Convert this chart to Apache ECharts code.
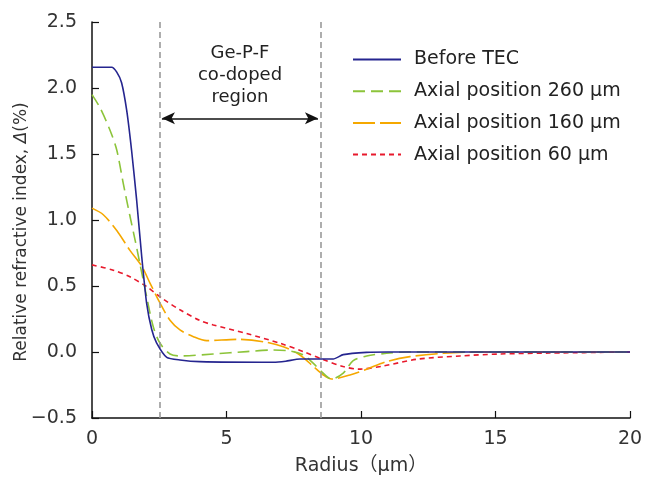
<!DOCTYPE html>
<html><head><meta charset="utf-8">
<script src="https://cdn.jsdelivr.net/npm/echarts@6/dist/echarts.min.js"></script>
<style>html,body{margin:0;padding:0;background:#fff}#c{width:646px;height:479px}</style>
</head><body><div id="c"></div>
<script>
const seriesNames = ['Before TEC','Axial position 260 µm','Axial position 160 µm','Axial position 60 µm'];
const blueX = [0,0.73,0.92,1.1,1.29,1.47,1.66,1.85,2.03,2.22,2.4,2.78,3.27,4.0,6.74,7.2,7.73,8.97,9.34,10.2,11,20];
const blueY = [2.157,2.157,2.12,2.04,1.83,1.53,1.15,0.72,0.37,0.17,0.07,-0.04,-0.06,-0.073,-0.078,-0.07,-0.053,-0.053,-0.02,-0.003,0,0];
const greenX = [0,0.3,0.67,0.92,1.16,1.41,1.6,1.78,2.03,2.28,2.53,2.9,3.27,4.51,5.75,6.74,7.36,7.86,8.23,8.54,8.91,9.34,9.71,10.21,10.95,11.7,15,20];
const greenY = [1.95,1.85,1.68,1.53,1.28,1.03,0.85,0.67,0.42,0.19,0.066,-0.015,-0.03,-0.015,0.003,0.015,0.008,-0.023,-0.086,-0.15,-0.205,-0.16,-0.066,-0.03,-0.01,0,0,0];
const orangeX = [0,0.42,0.92,1.41,1.85,2.16,2.53,2.9,3.27,3.77,4.26,5.38,6.37,7.11,7.73,8.23,8.6,8.91,9.59,10.21,10.95,11.82,13.06,14.5,20];
const orangeY = [1.09,1.04,0.92,0.77,0.65,0.52,0.37,0.24,0.167,0.116,0.086,0.096,0.078,0.04,-0.023,-0.11,-0.174,-0.205,-0.174,-0.13,-0.073,-0.035,-0.01,0,0];
const redX = [0,0.79,1.41,2.03,2.65,3.27,4.0,4.51,5.75,6.99,7.86,8.54,9.34,9.9,10.83,12.07,13.68,15.17,17,20];
const redY = [0.66,0.62,0.57,0.495,0.40,0.32,0.24,0.205,0.14,0.066,0.003,-0.053,-0.11,-0.13,-0.106,-0.055,-0.03,-0.015,-0.008,0];
const xTicks = [0,5,10,15,20];
const yTicks = [-0.5,0,0.5,1,1.5,2,2.5];
const regionBounds = [2.5,8.5];
const arrowY = 1.77;
const arrowX = [2.6,8.4];
const regionLabel = 'Ge-P-F\nco-doped\nregion';

const FONT = '"DejaVu Sans","Noto Sans CJK JP",sans-serif';
const zip = (xs, ys) => xs.map((x,i)=>[x, ys[i]]);

const chart = echarts.init(document.getElementById('c'), null, {renderer:'canvas'});
chart.setOption({
  animation:false,
  textStyle:{fontFamily:FONT},
  grid:{left:92,right:16,top:22,bottom:61,containLabel:false,outerBoundsMode:'none'},
  legend:{
    orient:'vertical', left:352, top:50, padding:0, itemWidth:48, itemHeight:20, itemGap:12.7,
    itemStyle:{opacity:0},
    textStyle:{fontSize:19,color:'#222',fontFamily:FONT,padding:[0,0,0,8]},
    data:seriesNames
  },
  xAxis:{
    type:'value', min:xTicks[0], max:xTicks[xTicks.length-1], interval:5,
    name:'Radius（µm）', nameLocation:'middle', nameGap:39, nameMoveOverlap:false,
    nameTextStyle:{fontSize:19,color:'#333',fontFamily:FONT},
    axisLine:{onZero:false,lineStyle:{color:'#111',width:1.5}},
    axisTick:{inside:true,length:7,lineStyle:{color:'#111',width:1.2}},
    axisLabel:{fontSize:19,color:'#333',margin:12,fontFamily:FONT,formatter:v=>String(v)},
    splitLine:{show:false}
  },
  yAxis:{
    type:'value', min:yTicks[0], max:yTicks[yTicks.length-1], interval:0.5,
    name:'{a|Relative refractive index, }{i|Δ}{a|(%)}', nameLocation:'middle', nameGap:62, nameMoveOverlap:false,
    nameTextStyle:{padding:[0,24,0,0],rich:{a:{fontSize:17,color:'#333',fontFamily:FONT},i:{fontSize:17,color:'#333',fontStyle:'italic',fontFamily:FONT}}},
    axisLine:{onZero:false,lineStyle:{color:'#111',width:1.5}},
    axisTick:{inside:true,length:7,lineStyle:{color:'#111',width:1.2}},
    axisLabel:{fontSize:19,color:'#333',margin:15,fontFamily:FONT,
      formatter:v=> v<0 ? '−'+Math.abs(v).toFixed(1) : v.toFixed(1)},
    splitLine:{show:false}
  },
  series:[
    {name:seriesNames[0],type:'line',data:zip(blueX,blueY),showSymbol:false,symbol:'none',smooth:0.2,
     lineStyle:{color:'#25258f',width:1.6,type:'solid'},itemStyle:{color:'#25258f'},z:5,
     markLine:{silent:true,symbol:['none','none'],label:{show:false},
       lineStyle:{color:'#9a9a9a',type:[6,4],width:1.6},
       data:regionBounds.map(v=>({xAxis:v}))}},
    {name:seriesNames[1],type:'line',data:zip(greenX,greenY),showSymbol:false,symbol:'none',smooth:0.3,
     lineStyle:{color:'#8cc43a',width:1.6,type:[12,6]},itemStyle:{color:'#8cc43a'},z:4},
    {name:seriesNames[2],type:'line',data:zip(orangeX,orangeY),showSymbol:false,symbol:'none',smooth:0.3,
     lineStyle:{color:'#f5a800',width:1.6,type:[22,5]},itemStyle:{color:'#f5a800'},z:3,
     markLine:{silent:true,symbol:['arrow','arrow'],symbolSize:[9,13],label:{show:false},
       lineStyle:{color:'#111',type:'solid',width:1.5},
       data:[[{coord:[arrowX[0],arrowY]},{coord:[arrowX[1],arrowY]}]]}},
    {name:seriesNames[3],type:'line',data:zip(redX,redY),showSymbol:false,symbol:'none',smooth:0.3,
     lineStyle:{color:'#e8192c',width:1.6,type:[5,4]},itemStyle:{color:'#e8192c'},z:2}
  ],
  graphic:[{type:'text',x:240,y:42,
    style:{text:regionLabel,fontSize:18,fill:'#222',fontFamily:FONT,align:'center',lineHeight:22}}]
});
</script></body></html>
